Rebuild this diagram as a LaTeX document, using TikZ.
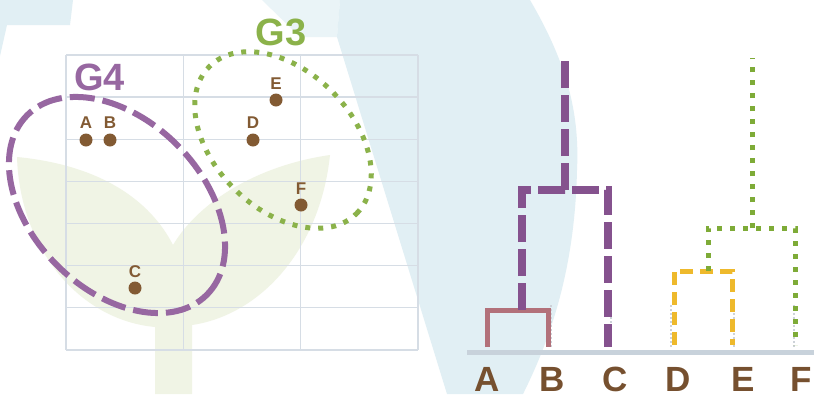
\documentclass[tikz,border=0pt]{standalone}
\usepackage{fontspec}
\setmainfont{Liberation Sans}
\definecolor{wmblue}{HTML}{E1EFF4}
\definecolor{wmblue2}{HTML}{EAF4F7}
\definecolor{wmleaf}{HTML}{F0F4E5}
\definecolor{gridc}{HTML}{D6DDE5}
\definecolor{dotc}{HTML}{825A33}
\definecolor{labc}{HTML}{76502F}
\definecolor{gfourc}{HTML}{9767A1}
\definecolor{gthreec}{HTML}{8BB24A}
\definecolor{purpc}{HTML}{85528E}
\definecolor{abc}{HTML}{B2717A}
\definecolor{yelc}{HTML}{EEB92C}
\definecolor{grnc}{HTML}{7EAB37}
\definecolor{basec}{HTML}{C8D2DB}
\definecolor{shadc}{HTML}{CDD2D9}
\begin{document}
\begin{tikzpicture}[x=1pt,y=-1pt,
  gridline/.style={draw=gridc, line width=1.3pt},
  dot/.style={circle, fill=dotc, inner sep=0pt, minimum size=13pt},
  ptlabel/.style={font=\fontsize{17}{17}\selectfont\bfseries, text=dotc, anchor=base, inner sep=0pt},
  grouplabel/.style={font=\fontsize{38}{38}\selectfont\bfseries, anchor=base, inner sep=0pt},
  leaflabel/.style={font=\fontsize{35}{35}\selectfont\bfseries, text=labc, anchor=base, inner sep=0pt},
  gfourline/.style={draw=gfourc, line width=6pt, dash pattern=on 25pt off 8pt},
  gthreeline/.style={draw=gthreec, line width=5pt, dash pattern=on 5pt off 8pt},
  abline/.style={draw=abc, line width=5pt},
  purpline/.style={draw=purpc, line width=8pt, dash pattern=on 27pt off 7pt},
  yelline/.style={draw=yelc, line width=5pt, dash pattern=on 13pt off 7pt},
  grnline/.style={draw=grnc, line width=5pt, dash pattern=on 5pt off 8pt},
  shadline/.style={draw=shadc, line width=1.5pt, dash pattern=on 2pt off 2pt},
]
\useasboundingbox (0,0) rectangle (814,394);
\fill[white] (0,0) rectangle (814,394);
% watermark shapes
\fill[wmblue] (0,0) -- (73,0) -- (70,25) -- (7,25) -- (0,56) -- cycle;
\fill[wmblue2] (262,0) -- (340,0) -- (337,37) -- (300,37) -- cycle;
\fill[wmblue] (340,0) -- (530,0) .. controls (565,60) and (580,110) .. (577,170)
  .. controls (575,260) and (555,330) .. (523,394) -- (447,394) -- (337,37) -- cycle;
\fill[wmleaf] (17,157) .. controls (100,165) and (150,200) .. (173,245)
  .. controls (200,200) and (260,165) .. (330,155)
  .. controls (320,250) and (260,315) .. (192,325) -- (192,394) -- (155,394) -- (155,327)
  .. controls (80,320) and (20,250) .. (17,157) -- cycle;
% grid
\foreach \gx in {66,183.33,300.67,418} \draw[gridline] (\gx,55) -- (\gx,350);
\foreach \k in {0,...,7} \draw[gridline] (66,55+42.14*\k) -- (418,55+42.14*\k);
% group ellipses
\begin{scope}[shift={(117,205)}, rotate=-45]
  \draw[gfourline] (0,0) ellipse [x radius=127pt, y radius=85pt];
\end{scope}
\begin{scope}[shift={(283,140)}, rotate=-45]
  \draw[gthreeline] (0,0) ellipse [x radius=104pt, y radius=69pt];
\end{scope}
\node[grouplabel, text=gfourc] (gfour) at (99.5,90) {G4};
\node[grouplabel, text=gthreec] (gthree) at (281,45) {G3};
% points
\node[dot] (pA) at (86,140) {};
\node[dot] (pB) at (110,140) {};
\node[dot] (pC) at (135,288) {};
\node[dot] (pD) at (253,140) {};
\node[dot] (pE) at (276,100) {};
\node[dot] (pF) at (301,205) {};
\node[ptlabel] (tA) at (86,128) {A};
\node[ptlabel] (tB) at (110,128) {B};
\node[ptlabel] (tC) at (135,277) {C};
\node[ptlabel] (tD) at (253,128) {D};
\node[ptlabel] (tE) at (276,89) {E};
\node[ptlabel] (tF) at (301,194) {F};
% dendrogram
\draw[basec, line width=5pt] (467,352) -- (814,352);
\coordinate (lA) at (487,347);
\coordinate (lB) at (548,347);
\coordinate (lC) at (608,347);
\coordinate (lD) at (674,345);
\coordinate (lE) at (732,345);
\coordinate (lF) at (795,345);
\coordinate (mAB) at (522,310);
\coordinate (mC) at (565,190);
\coordinate (tC) at (565,55);
\coordinate (mDE) at (708,271);
\coordinate (mF) at (752,228);
\coordinate (tF) at (752,58);
\foreach \sx in {551,611,671,734,794} \draw[shadline] (\sx,305) -- (\sx,348);
\draw[abline] (lA) |- (mAB) -| (lB);
\draw[purpline] (mAB) |- (mC) -| (lC);
\draw[purpline] (mC) -- (tC);
\draw[yelline] (lD) |- (mDE) -| (lE);
\draw[grnline] (mDE) |- (mF) -| (lF);
\draw[grnline] (mF) -- (tF);
\node[leaflabel] (bA) at (487,391) {A};
\node[leaflabel] (bB) at (552,391) {B};
\node[leaflabel] (bC) at (615,391) {C};
\node[leaflabel] (bD) at (678,391) {D};
\node[leaflabel] (bE) at (743,391) {E};
\node[leaflabel] (bF) at (801,391) {F};
\end{tikzpicture}
\end{document}
